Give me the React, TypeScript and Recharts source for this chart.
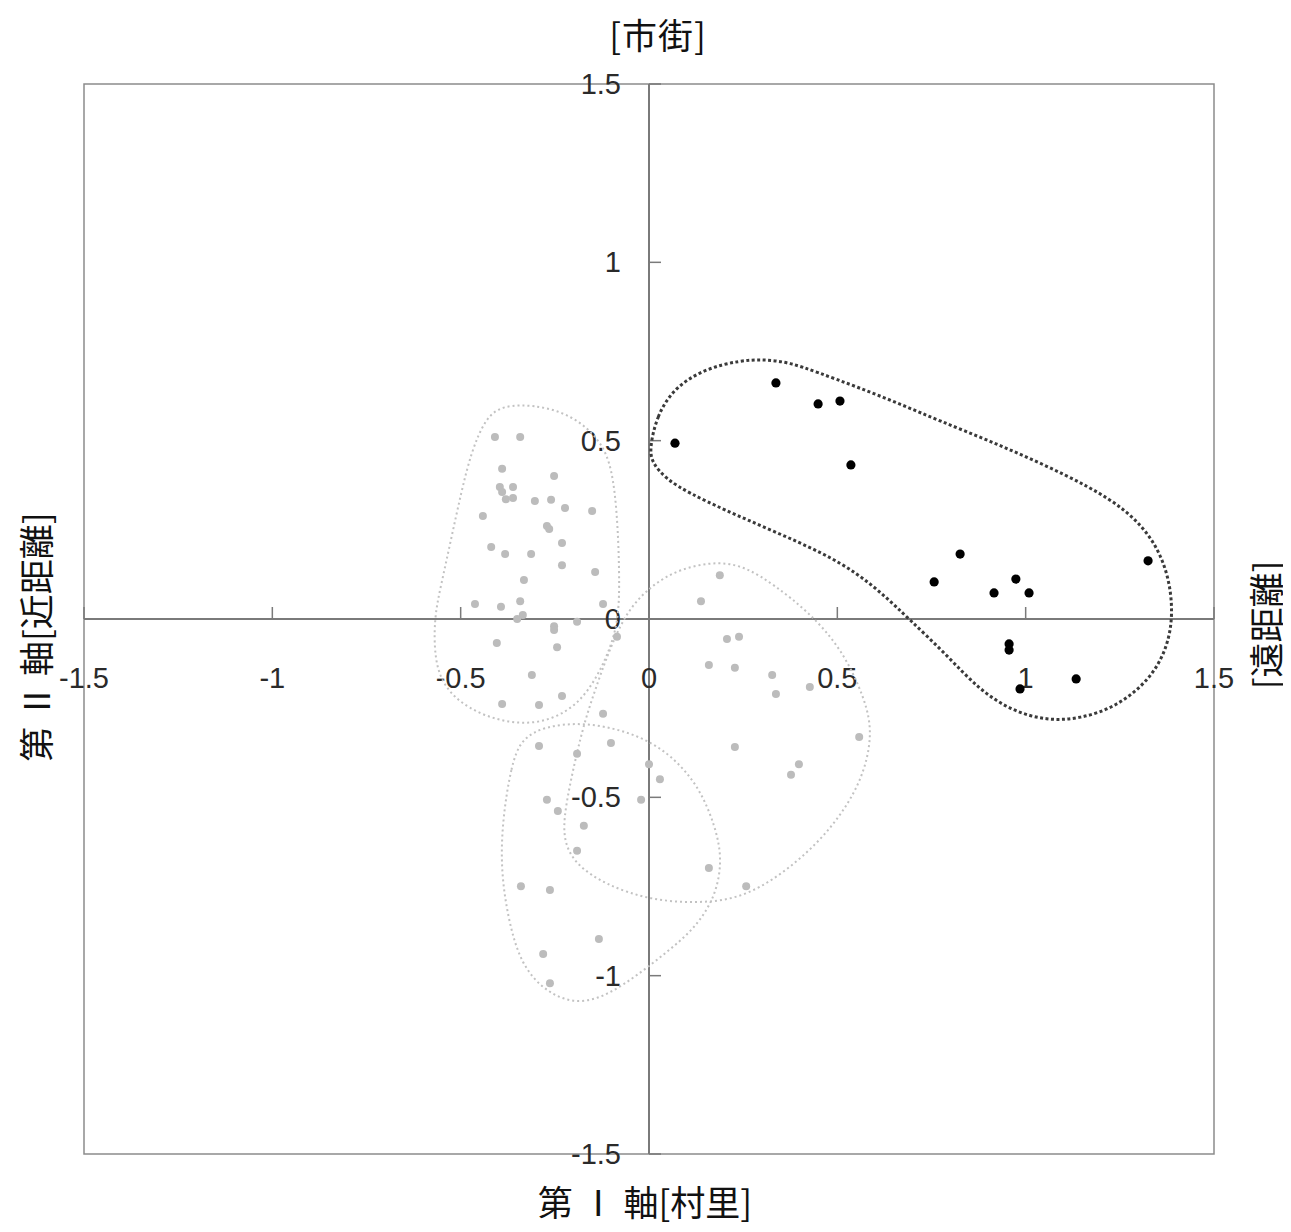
import React from 'react';
import {
  ScatterChart, Scatter, XAxis, YAxis, ReferenceLine, ReferenceArea, ReferenceDot,
} from 'recharts';

// cluster 1 (black)
const blackPts = [
  { x: 0.069, y: 0.493 }, { x: 0.337, y: 0.662 }, { x: 0.449, y: 0.603 },
  { x: 0.507, y: 0.611 }, { x: 0.536, y: 0.432 }, { x: 0.757, y: 0.104 },
  { x: 0.826, y: 0.182 }, { x: 0.916, y: 0.073 }, { x: 0.974, y: 0.112 },
  { x: 1.009, y: 0.073 }, { x: 0.956, y: -0.070 }, { x: 0.956, y: -0.087 },
  { x: 0.985, y: -0.196 }, { x: 1.134, y: -0.168 }, { x: 1.325, y: 0.163 },
];

// other clusters (gray)
const grayPts = [
  { x: -0.409, y: 0.510 }, { x: -0.342, y: 0.510 }, { x: -0.390, y: 0.421 },
  { x: -0.252, y: 0.401 }, { x: -0.396, y: 0.370 }, { x: -0.390, y: 0.356 },
  { x: -0.361, y: 0.370 }, { x: -0.380, y: 0.336 }, { x: -0.361, y: 0.339 },
  { x: -0.303, y: 0.331 }, { x: -0.260, y: 0.334 }, { x: -0.223, y: 0.311 },
  { x: -0.151, y: 0.303 }, { x: -0.441, y: 0.289 }, { x: -0.271, y: 0.261 },
  { x: -0.265, y: 0.252 }, { x: -0.231, y: 0.213 }, { x: -0.419, y: 0.202 },
  { x: -0.382, y: 0.182 }, { x: -0.313, y: 0.182 }, { x: -0.231, y: 0.151 },
  { x: -0.143, y: 0.132 }, { x: -0.332, y: 0.109 }, { x: -0.462, y: 0.042 },
  { x: -0.393, y: 0.034 }, { x: -0.342, y: 0.050 }, { x: -0.122, y: 0.042 },
  { x: -0.335, y: 0.011 }, { x: -0.350, y: 0.000 }, { x: -0.252, y: -0.020 },
  { x: -0.252, y: -0.031 }, { x: -0.191, y: -0.008 }, { x: -0.085, y: -0.050 },
  { x: -0.404, y: -0.067 }, { x: -0.244, y: -0.079 }, { x: -0.311, y: -0.157 },
  { x: -0.231, y: -0.216 }, { x: -0.390, y: -0.238 }, { x: -0.292, y: -0.241 },
  { x: -0.122, y: -0.266 }, { x: -0.292, y: -0.356 }, { x: -0.101, y: -0.348 },
  { x: -0.191, y: -0.378 }, { x: 0.000, y: -0.407 }, { x: 0.029, y: -0.449 },
  { x: 0.228, y: -0.359 }, { x: -0.271, y: -0.507 }, { x: -0.242, y: -0.538 },
  { x: -0.021, y: -0.507 }, { x: -0.173, y: -0.580 }, { x: -0.191, y: -0.650 },
  { x: 0.159, y: -0.698 }, { x: -0.340, y: -0.749 }, { x: -0.263, y: -0.760 },
  { x: -0.133, y: -0.897 }, { x: -0.281, y: -0.939 }, { x: -0.263, y: -1.021 },
  { x: 0.188, y: 0.123 }, { x: 0.138, y: 0.050 }, { x: 0.207, y: -0.056 },
  { x: 0.239, y: -0.050 }, { x: 0.159, y: -0.129 }, { x: 0.228, y: -0.137 },
  { x: 0.327, y: -0.157 }, { x: 0.337, y: -0.210 }, { x: 0.427, y: -0.191 },
  { x: 0.558, y: -0.331 }, { x: 0.398, y: -0.407 }, { x: 0.377, y: -0.437 },
  { x: 0.258, y: -0.749 },
];

// hand-drawn cluster outlines
const outlineBlack = [
  { x: 0.002, y: 0.479 }, { x: 0.020, y: 0.568 }, { x: 0.066, y: 0.648 },
  { x: 0.149, y: 0.702 }, { x: 0.242, y: 0.725 }, { x: 0.308, y: 0.728 },
  { x: 0.374, y: 0.719 }, { x: 0.446, y: 0.692 }, { x: 0.552, y: 0.651 },
  { x: 0.666, y: 0.603 }, { x: 0.773, y: 0.555 }, { x: 0.905, y: 0.499 },
  { x: 1.038, y: 0.438 }, { x: 1.171, y: 0.370 }, { x: 1.268, y: 0.305 },
  { x: 1.338, y: 0.226 }, { x: 1.380, y: 0.125 }, { x: 1.392, y: 0.011 },
  { x: 1.375, y: -0.084 }, { x: 1.330, y: -0.170 }, { x: 1.242, y: -0.246 },
  { x: 1.144, y: -0.280 }, { x: 1.057, y: -0.285 }, { x: 0.963, y: -0.258 },
  { x: 0.874, y: -0.196 }, { x: 0.788, y: -0.098 }, { x: 0.690, y: 0.000 },
  { x: 0.627, y: 0.064 }, { x: 0.552, y: 0.129 }, { x: 0.462, y: 0.185 },
  { x: 0.329, y: 0.247 }, { x: 0.196, y: 0.308 }, { x: 0.109, y: 0.352 },
  { x: 0.045, y: 0.392 }, { x: 0.007, y: 0.440 },
];

const outlineA = [
  { x: -0.388, y: 0.600 }, { x: -0.297, y: 0.600 }, { x: -0.205, y: 0.572 },
  { x: -0.132, y: 0.506 }, { x: -0.098, y: 0.428 }, { x: -0.084, y: 0.286 },
  { x: -0.079, y: 0.146 }, { x: -0.079, y: 0.034 }, { x: -0.090, y: -0.041 },
  { x: -0.117, y: -0.119 }, { x: -0.161, y: -0.204 }, { x: -0.216, y: -0.261 },
  { x: -0.297, y: -0.295 }, { x: -0.390, y: -0.289 }, { x: -0.480, y: -0.252 },
  { x: -0.543, y: -0.194 }, { x: -0.570, y: -0.115 }, { x: -0.570, y: 0.006 },
  { x: -0.553, y: 0.090 }, { x: -0.526, y: 0.221 }, { x: -0.499, y: 0.353 },
  { x: -0.472, y: 0.468 }, { x: -0.434, y: 0.564 },
];

const outlineB = [
  { x: -0.340, y: -0.335 }, { x: -0.366, y: -0.413 }, { x: -0.388, y: -0.555 },
  { x: -0.394, y: -0.695 }, { x: -0.375, y: -0.838 }, { x: -0.340, y: -0.970 },
  { x: -0.273, y: -1.047 }, { x: -0.191, y: -1.081 }, { x: -0.110, y: -1.055 },
  { x: -0.030, y: -0.998 }, { x: 0.050, y: -0.932 }, { x: 0.121, y: -0.868 },
  { x: 0.176, y: -0.781 }, { x: 0.195, y: -0.676 }, { x: 0.176, y: -0.580 },
  { x: 0.131, y: -0.466 }, { x: 0.058, y: -0.381 }, { x: -0.016, y: -0.333 },
  { x: -0.096, y: -0.305 }, { x: -0.183, y: -0.291 }, { x: -0.273, y: -0.300 },
];

const outlineC = [
  { x: 0.188, y: 0.163 }, { x: 0.262, y: 0.143 }, { x: 0.333, y: 0.095 },
  { x: 0.424, y: 0.020 }, { x: 0.513, y: -0.085 }, { x: 0.575, y: -0.227 },
  { x: 0.594, y: -0.325 }, { x: 0.566, y: -0.454 }, { x: 0.493, y: -0.577 },
  { x: 0.396, y: -0.682 }, { x: 0.262, y: -0.780 }, { x: 0.135, y: -0.798 },
  { x: 0.003, y: -0.788 }, { x: -0.114, y: -0.746 }, { x: -0.196, y: -0.688 },
  { x: -0.228, y: -0.620 }, { x: -0.224, y: -0.536 }, { x: -0.196, y: -0.395 },
  { x: -0.170, y: -0.283 }, { x: -0.134, y: -0.171 }, { x: -0.100, y: -0.073 },
  { x: -0.058, y: 0.022 }, { x: 0.003, y: 0.092 }, { x: 0.082, y: 0.142 },
];

const ticks = [-1.5, -1, -0.5, 0, 0.5, 1, 1.5];
const tickLabels = ['-1.5', '-1', '-0.5', '0', '0.5', '1', '1.5'];

const tickFont = { fontSize: 29, fill: '#2a2a2a', fontFamily: 'Liberation Sans, Arial, sans-serif' };
const titleFont: React.CSSProperties = {
  position: 'absolute', fontSize: 35, color: '#111', whiteSpace: 'nowrap',
  fontFamily: '"Noto Sans CJK JP", sans-serif', lineHeight: 1,
};

const grayLine = { stroke: '#c2c2c2', strokeWidth: 2, strokeDasharray: '2 3' };

const noShape = () => <g />;

export default function App() {
  return (
    <div style={{ position: 'relative', width: 1275, height: 1216 }}>
      <ScatterChart width={1275} height={1216} margin={{ top: 76, left: 76, right: 69, bottom: 70 }}>
        <XAxis type="number" dataKey="x" domain={[-1.5, 1.5]} hide allowDataOverflow />
        <YAxis type="number" dataKey="y" domain={[-1.5, 1.5]} hide allowDataOverflow />
        <ReferenceArea x1={-1.5} x2={1.5} y1={-1.5} y2={1.5} fill="none" stroke="#8c8c8c" strokeWidth={1.5} ifOverflow="visible" />
        <ReferenceLine x={0} stroke="#7a7a7a" strokeWidth={2} />
        <ReferenceLine y={0} stroke="#7a7a7a" strokeWidth={2} />
        {ticks.map((v, i) => (
          <ReferenceDot
            key={'x' + v}
            x={v}
            y={0}
            ifOverflow="visible"
            shape={(p: any) => (
              <g>
                <line x1={p.cx} y1={p.cy} x2={p.cx} y2={p.cy - 12} stroke="#7a7a7a" strokeWidth={1.5} />
                <text x={p.cx} y={p.cy + 69} textAnchor="middle" {...tickFont}>{tickLabels[i]}</text>
              </g>
            )}
          />
        ))}
        {ticks.map((v, i) => (
          <ReferenceDot
            key={'y' + v}
            x={0}
            y={v}
            ifOverflow="visible"
            shape={(p: any) => (
              <g>
                <line x1={p.cx} y1={p.cy} x2={p.cx + 12} y2={p.cy} stroke="#7a7a7a" strokeWidth={1.5} />
                <text x={p.cx - 28} y={p.cy + 10} textAnchor="end" {...tickFont}>{tickLabels[i]}</text>
              </g>
            )}
          />
        ))}
        <Scatter data={outlineA} shape={noShape} line={grayLine} lineJointType="basisClosed" isAnimationActive={false} />
        <Scatter data={outlineB} shape={noShape} line={grayLine} lineJointType="basisClosed" isAnimationActive={false} />
        <Scatter data={outlineC} shape={noShape} line={grayLine} lineJointType="basisClosed" isAnimationActive={false} />
        <Scatter
          data={grayPts}
          isAnimationActive={false}
          shape={(p: any) => <circle cx={p.cx} cy={p.cy} r={4} fill="#bcbcbc" />}
        />
        <Scatter data={outlineBlack} shape={noShape} line={{ stroke: '#3a3a3a', strokeWidth: 3, strokeDasharray: '3 2.5' }} lineJointType="basisClosed" isAnimationActive={false} />
        <Scatter
          data={blackPts}
          isAnimationActive={false}
          shape={(p: any) => <circle cx={p.cx} cy={p.cy} r={4.6} fill="#000" />}
        />
      </ScatterChart>
      <div style={{ ...titleFont, left: 650, top: 25, transform: 'translate(-50%, -50%)', letterSpacing: 1 }}>[市街]</div>
      <div style={{ ...titleFont, left: 637, top: 1192, transform: 'translate(-50%, -50%)', letterSpacing: 0 }}>第 Ⅰ 軸[村里]</div>
      <div style={{ ...titleFont, left: 26, top: 629, transform: 'translate(-50%, -50%) rotate(-90deg)', letterSpacing: 0 }}>第 Ⅱ 軸[近距離]</div>
      <div style={{ ...titleFont, left: 1256, top: 617, transform: 'translate(-50%, -50%) rotate(-90deg)', letterSpacing: 0 }}>[遠距離]</div>
    </div>
  );
}
